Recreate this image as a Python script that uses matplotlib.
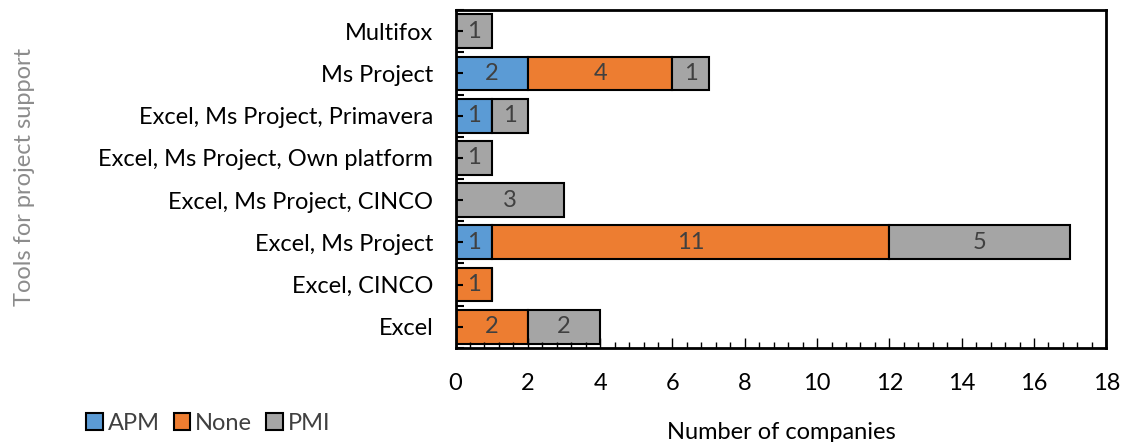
import matplotlib.pyplot as plt
from matplotlib.ticker import MultipleLocator, FixedLocator
from matplotlib.patches import Patch

# data, bottom to top
tools = ['Excel', 'Excel, CINCO', 'Excel, Ms Project', 'Excel, Ms Project, CINCO',
         'Excel, Ms Project, Own platform', 'Excel, Ms Project, Primavera',
         'Ms Project', 'Multifox']
apm = [0, 0, 1, 0, 0, 1, 2, 0]
none = [2, 1, 11, 0, 0, 0, 4, 0]
pmi = [2, 0, 5, 3, 1, 1, 1, 1]

series = ['APM', 'None', 'PMI']
colors = ['#5b9bd5', '#ed7d31', '#a5a5a5']

plt.rcParams['font.family'] = ['Lato', 'DejaVu Sans']
txt = '#404040'
fs = 17

fig = plt.figure(figsize=(11.22, 4.42), dpi=100)
ax = fig.add_axes([0.406, 0.213, 0.58, 0.764])

left = [0] * len(tools)
for name, vals, col in zip(series, [apm, none, pmi], colors):
    ax.barh(range(len(tools)), vals, left=left, height=0.8, color=col,
            edgecolor='black', linewidth=1.5, label=name)
    for i, v in enumerate(vals):
        if v > 0:
            ax.text(left[i] + v / 2, i, str(v), ha='center', va='center',
                    fontsize=fs, color=txt)
    left = [a + b for a, b in zip(left, vals)]

ax.set_xlim(0, 18)
ax.set_ylim(-0.5, len(tools) - 0.5)
ax.set_yticks(range(len(tools)))
ax.set_yticklabels(tools, fontsize=fs, color='black')
ax.yaxis.set_minor_locator(FixedLocator([i + 0.5 for i in range(-1, len(tools))]))
ax.xaxis.set_major_locator(MultipleLocator(2))
ax.xaxis.set_minor_locator(MultipleLocator(0.4))
ax.tick_params(axis='x', which='major', direction='in', length=7, width=1,
               labelsize=fs, pad=18)
ax.tick_params(axis='x', which='minor', direction='in', length=4, width=1)
ax.tick_params(axis='y', which='major', direction='in', length=5, width=1.5, pad=16)
ax.tick_params(axis='y', which='minor', direction='in', length=6, width=1.5)
for s in ax.spines.values():
    s.set_linewidth(2)

ax.set_xlabel('Number of companies', fontsize=fs, color='black', labelpad=20)
fig.text(0.022, 0.60, 'Tools for project support', rotation=90, ha='center',
         va='center', fontsize=fs, color='#8c8c8c')

handles = [Patch(facecolor=c, edgecolor='black', linewidth=1.5) for c in colors]
fig.legend(handles, series, loc='lower left', bbox_to_anchor=(0.058, -0.03),
           ncol=3, frameon=False, fontsize=fs, handlelength=0.7, handleheight=0.7,
           handletextpad=0.2, columnspacing=0.6, labelcolor=txt)

fig.savefig('out.png')
